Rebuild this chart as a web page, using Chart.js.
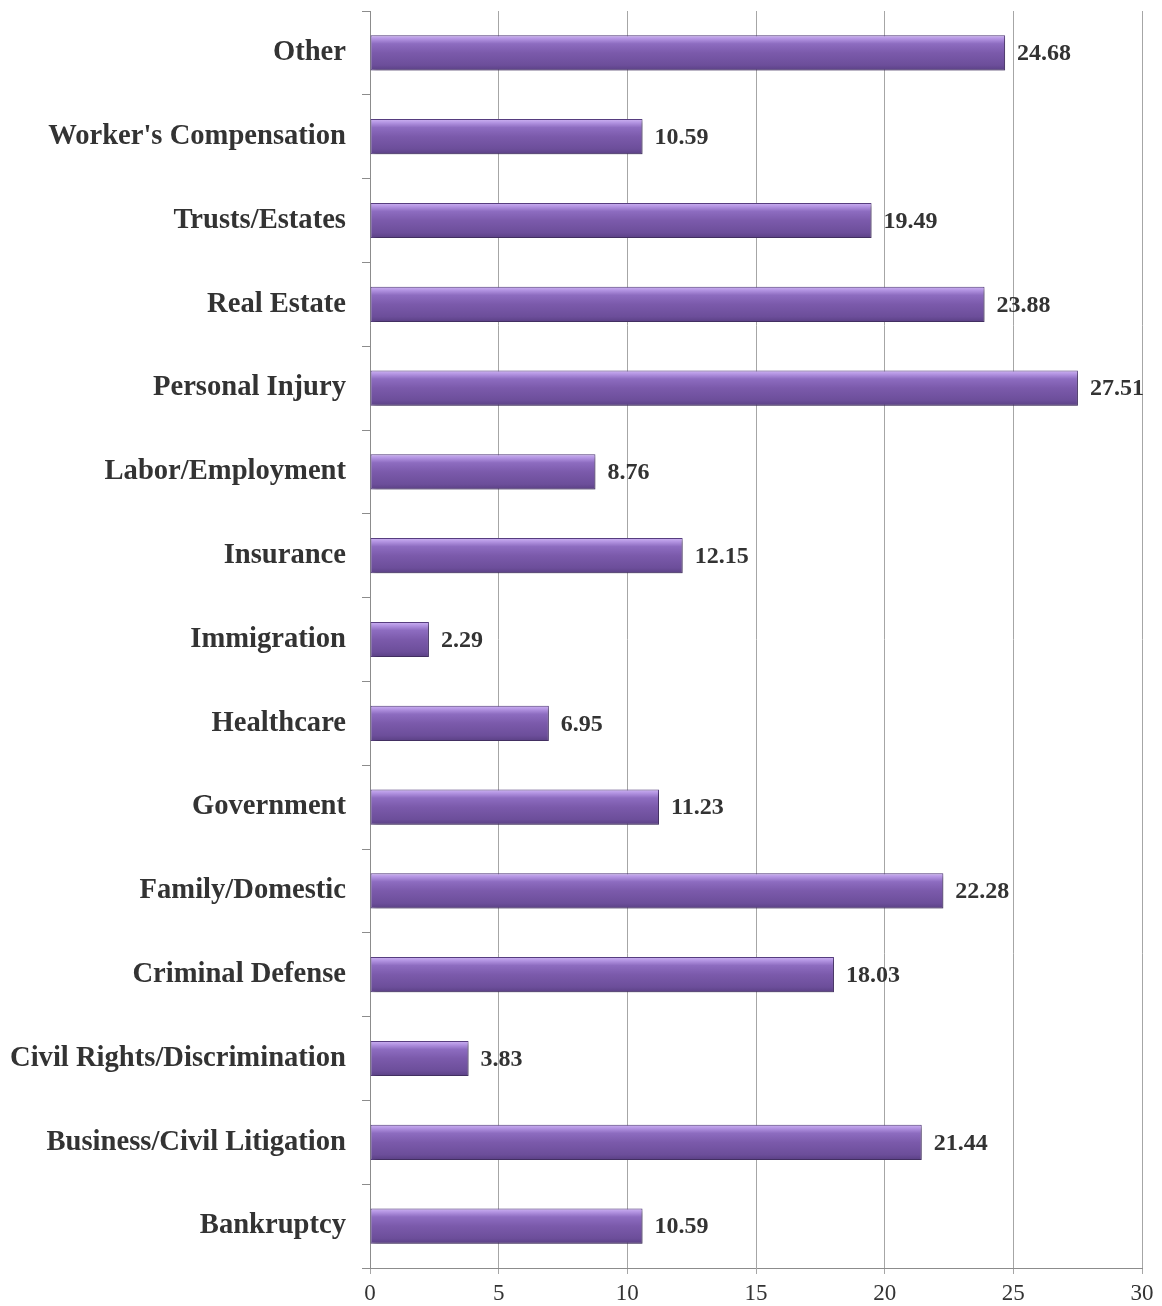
<!DOCTYPE html>
<html>
<head>
<meta charset="utf-8">
<script src="https://cdn.jsdelivr.net/npm/chart.js@4/dist/chart.umd.min.js"></script>
<style>
  html, body { margin: 0; padding: 0; background: #fff; }
  #wrap { width: 1162px; height: 1306px; }
</style>
</head>
<body>
<div id="wrap"><canvas id="practiceChart" width="1162" height="1306"></canvas></div>
<script>
// practice areas, top to bottom as in the chart
const practiceAreas = [
    "Other", "Worker's Compensation", "Trusts/Estates", "Real Estate", "Personal Injury",
    "Labor/Employment", "Insurance", "Immigration", "Healthcare", "Government",
    "Family/Domestic", "Criminal Defense", "Civil Rights/Discrimination",
    "Business/Civil Litigation", "Bankruptcy"
];
const practiceValues = [
    24.68, 10.59, 19.49, 23.88, 27.51,
    8.76, 12.15, 2.29, 6.95, 11.23,
    22.28, 18.03, 3.83, 21.44, 10.59
];
const xTicks = [0, 5, 10, 15, 20, 25, 30];

const serif = '"Liberation Serif", "Times New Roman", serif';
Chart.defaults.font.family = serif;
Chart.defaults.color = '#333333';

const BAR_PCT = 0.42;

// bevelled purple bar: vertical gradient per bar, built from the y scale
function barGradient(ctx) {
    const chart = ctx.chart;
    const y = chart.scales.y;
    const flat = '#7b5aab';
    if (!y || ctx.dataIndex == null) return flat;
    const cy = y.getPixelForValue(ctx.dataIndex);
    const h = Math.abs(y.getPixelForValue(1) - y.getPixelForValue(0)) * BAR_PCT;
    if (!isFinite(cy) || !isFinite(h) || h <= 0) return flat;
    const g = chart.ctx.createLinearGradient(0, cy - h / 2, 0, cy + h / 2);
    g.addColorStop(0, '#cdb3f2');
    g.addColorStop(0.1, '#b394e2');
    g.addColorStop(0.24, '#8d6cc0');
    g.addColorStop(0.5, '#7b5aab');
    g.addColorStop(0.85, '#6c4e9a');
    g.addColorStop(1, '#5a4084');
    return g;
}

const shadowPlugin = {
    id: 'barShadow',
    beforeDatasetsDraw(chart) {
        const c = chart.ctx;
        c.save();
        c.shadowColor = 'rgba(0,0,0,0.35)';
        c.shadowBlur = 4;
        c.shadowOffsetX = 2;
        c.shadowOffsetY = 2;
    },
    afterDatasetsDraw(chart) {
        chart.ctx.restore();
    }
};

const valueLabels = {
    id: 'valueLabels',
    afterDraw(chart) {
        const c = chart.ctx;
        const meta = chart.getDatasetMeta(0);
        c.save();
        c.font = 'bold 24px ' + serif;
        c.fillStyle = '#333333';
        c.textAlign = 'left';
        c.textBaseline = 'middle';
        meta.data.forEach((bar, i) => {
            c.fillText(practiceValues[i].toFixed(2), bar.x + 12, bar.y + 1);
        });
        c.restore();
    }
};

var ctx = document.getElementById("practiceChart");
var practiceBarChart = new Chart(ctx, {
    type: 'bar',
    data: {
        labels: practiceAreas,
        datasets: [
            {
                data: practiceValues,
                backgroundColor: barGradient,
                borderColor: '#5a4084',
                borderWidth: 1,
                borderSkipped: false,
                barPercentage: BAR_PCT,
                categoryPercentage: 1
            }
        ]
    },
    options: {
        indexAxis: 'y',
        responsive: false,
        animation: false,
        devicePixelRatio: 1,
        layout: {
            padding: { top: 11, right: 20, left: 0, bottom: 0 }
        },
        plugins: {
            legend: { display: false },
            tooltip: { enabled: false }
        },
        scales: {
            x: {
                min: 0,
                max: 30,
                afterBuildTicks: (scale) => {
                    scale.ticks = xTicks.map(v => ({ value: v }));
                },
                afterFit: (scale) => { scale.height = 38; },
                ticks: {
                    font: { size: 23 },
                    color: '#333333',
                    padding: 6
                },
                grid: {
                    color: '#a6a6a6',
                    lineWidth: 1,
                    tickLength: 6
                },
                border: { color: '#8c8c8c' }
            },
            y: {
                afterFit: (scale) => {
                    scale.width = 370;
                    scale.paddingTop = 0;
                    scale.paddingBottom = 0;
                },
                ticks: {
                    font: { size: 28.6, weight: 'bold' },
                    color: '#333333',
                    padding: 16
                },
                grid: {
                    drawOnChartArea: false,
                    color: '#8c8c8c',
                    tickLength: 8
                },
                border: { color: '#8c8c8c' }
            }
        }
    },
    plugins: [shadowPlugin, valueLabels]
});
</script>
</body>
</html>
